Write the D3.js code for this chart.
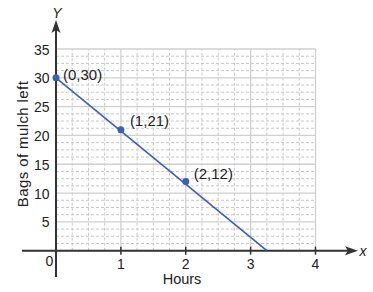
<!DOCTYPE html>
<html>
<head>
<meta charset="utf-8">
<script src="https://cdn.jsdelivr.net/npm/d3@7"></script>
<style>
  body { margin: 0; background: #fff; }
  text { font-family: "Liberation Sans", Arial, sans-serif; fill: #222; }
</style>
</head>
<body>
<div id="chart"></div>
<script>
// chart data
const xTicks = [1, 2, 3, 4]
const yTicks = [5, 10, 15, 20, 25, 30, 35]
const points = [[0, 30], [1, 21], [2, 12]]
const pointLabels = ["(0,30)", "(1,21)", "(2,12)"]
const lineEnds = [[0, 30], [3.25, 0]]

const width = 373, height = 292

const svg = d3.select("#chart").append("svg")
  .attr("width", width)
  .attr("height", height)

// scales
const x = d3.scaleLinear().domain([0, 4]).range([56, 315.5])
const y = d3.scaleLinear().domain([0, 35]).range([250.7, 49])

// grid, minor dashed first then major solid
const minorX = d3.range(0.25, 4, 0.25).filter(d => d % 1 != 0)
const minorY = d3.range(1.25, 35, 1.25).filter(d => d % 5 != 0)

const grid = svg.append("g")
grid.selectAll(".mx").data(minorX).enter().append("line")
  .attr("x1", d => x(d)).attr("x2", d => x(d))
  .attr("y1", y(0)).attr("y2", y(35))
  .attr("stroke", "#c8c8c8").attr("stroke-dasharray", "3,2")
grid.selectAll(".my").data(minorY).enter().append("line")
  .attr("x1", x(0)).attr("x2", x(4))
  .attr("y1", d => y(d)).attr("y2", d => y(d))
  .attr("stroke", "#c8c8c8").attr("stroke-dasharray", "3,2")
grid.selectAll(".Mx").data(xTicks).enter().append("line")
  .attr("x1", d => x(d)).attr("x2", d => x(d))
  .attr("y1", y(0)).attr("y2", y(35))
  .attr("stroke", "#d0d0d0").attr("stroke-width", 1.3)
grid.selectAll(".My").data(yTicks).enter().append("line")
  .attr("x1", x(0)).attr("x2", x(4))
  .attr("y1", d => y(d)).attr("y2", d => y(d))
  .attr("stroke", "#d0d0d0").attr("stroke-width", 1.3)

// axes with arrows
const axisColor = "#333"
svg.append("line")
  .attr("x1", 22).attr("x2", 350)
  .attr("y1", y(0)).attr("y2", y(0))
  .attr("stroke", axisColor).attr("stroke-width", 2)
svg.append("path")
  .attr("d", `M358,${y(0)} L345,${y(0) - 4.5} L348,${y(0)} L345,${y(0) + 4.5} Z`)
  .attr("fill", axisColor)
svg.append("line")
  .attr("x1", x(0)).attr("x2", x(0))
  .attr("y1", 277).attr("y2", 28)
  .attr("stroke", axisColor).attr("stroke-width", 2)
svg.append("path")
  .attr("d", `M${x(0)},20 L${x(0) - 4.5},33 L${x(0)},30 L${x(0) + 4.5},33 Z`)
  .attr("fill", axisColor)

// x tick marks
svg.selectAll(".xt").data(xTicks).enter().append("line")
  .attr("x1", d => x(d)).attr("x2", d => x(d))
  .attr("y1", y(0) - 4).attr("y2", y(0) + 4)
  .attr("stroke", axisColor).attr("stroke-width", 1.5)

// tick labels
svg.selectAll(".xl").data(xTicks).enter().append("text")
  .attr("x", d => x(d)).attr("y", 268.5)
  .attr("text-anchor", "middle").style("font-size", "14px")
  .text(d => d)
svg.append("text").attr("x", 49.3).attr("y", 266)
  .attr("text-anchor", "middle").style("font-size", "14px").text("0")
svg.selectAll(".yl").data(yTicks).enter().append("text")
  .attr("x", 49.5).attr("y", d => y(d) + 5.5)
  .attr("text-anchor", "end").style("font-size", "14px")
  .text(d => d)

// axis titles
svg.append("text").attr("x", 182).attr("y", 283.5)
  .attr("text-anchor", "middle").style("font-size", "14.5px").text("Hours")
svg.append("text")
  .attr("transform", "translate(27.5,144) rotate(-90)")
  .attr("text-anchor", "middle").style("font-size", "15px")
  .style("letter-spacing", "0.4px")
  .text("Bags of mulch left")
svg.append("text").attr("x", 57).attr("y", 18)
  .attr("text-anchor", "middle").style("font-size", "14px")
  .style("font-style", "italic").text("Y")
svg.append("text").attr("x", 363).attr("y", 256)
  .attr("text-anchor", "middle").style("font-size", "14px")
  .style("font-style", "italic").text("x")

// the line
const line = d3.line().x(d => x(d[0])).y(d => y(d[1]))
svg.append("path").datum(lineEnds)
  .attr("d", line)
  .attr("fill", "none").attr("stroke", "#3a5fb5").attr("stroke-width", 1.6)

svg.selectAll(".pt").data(points).enter().append("circle")
  .attr("cx", d => x(d[0])).attr("cy", d => y(d[1]))
  .attr("r", 3.5).attr("fill", "#3a5fb5")

// label offsets
const labelDx = [7, 9, 8]
const labelDy = [2, -3.5, -3]
svg.selectAll(".pl").data(points).enter().append("text")
  .attr("x", (d, i) => x(d[0]) + labelDx[i])
  .attr("y", (d, i) => y(d[1]) + labelDy[i])
  .style("font-size", "15px")
  .text((d, i) => pointLabels[i])
</script>
</body>
</html>
